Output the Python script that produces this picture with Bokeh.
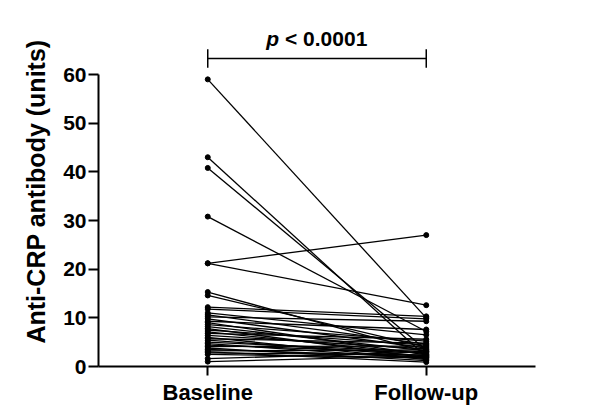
from bokeh.plotting import figure
from bokeh.models import Range1d, FixedTicker, ColumnDataSource
from bokeh.core.properties import value
from bokeh.embed import file_html
from bokeh.resources import INLINE

groups = ["Baseline", "Follow-up"]
baseline = [59, 43, 40.8, 30.8, 21.2, 21.2, 15.3, 14.6, 12.2, 11.8, 11.0, 10.6,
            10.2, 9.8, 9.3, 9.0, 8.6, 8.2, 7.8, 7.5, 7.1, 6.8, 6.4, 6.0, 5.7,
            5.4, 5.0, 4.7, 4.4, 4.1, 3.8, 3.5, 3.2, 3.0, 2.8, 2.5, 1.6, 1.0]
followup = [10.0, 2.0, 3.4, 7.2, 27.0, 12.6, 3.0, 4.0, 10.3, 9.8, 6.5, 4.6,
            9.3, 3.8, 7.6, 2.4, 5.2, 3.2, 1.8, 4.4, 2.6, 5.6, 3.6, 1.4, 4.8,
            2.2, 3.0, 1.6, 2.8, 4.2, 1.2, 2.0, 3.4, 0.9, 2.4, 1.8, 3.0, 2.2]
y_ticks = [0, 10, 20, 30, 40, 50, 60]
p_text = "< 0.0001"

FONT = "Liberation Sans"

p = figure(width=592, height=411, output_backend="svg", toolbar_location=None,
           x_range=Range1d(0.5, 2.5), y_range=Range1d(0, 350 * 60 / 292),
           min_border_left=98, min_border_right=57, min_border_top=16,
           min_border_bottom=45)
p.outline_line_color = None
p.grid.visible = False
p.background_fill_color = "white"

n = len(baseline)
src = ColumnDataSource(dict(x0=[1] * n, x1=[2] * n, y0=baseline, y1=followup))
p.segment("x0", "y0", "x1", "y1", source=src, line_color="black", line_width=1.3)
p.scatter("x0", "y0", source=src, size=5, color="black")
p.scatter("x1", "y1", source=src, size=5, color="black")

# significance bracket
bar_y = 63.3
p.segment([1, 1, 2], [bar_y, 61.4, 61.4], [2, 1, 2], [bar_y, 65.2, 65.2],
          line_color="black", line_width=1.5)
p.text([1.5], [67.4], text=["p"], text_font=value(FONT), text_font_style="bold italic",
       text_font_size="21px", text_align="right", text_baseline="middle",
       x_offset=-38, color="black")
p.text([1.5], [67.4], text=[p_text], text_font=value(FONT), text_font_style="bold",
       text_font_size="21px", text_align="left", text_baseline="middle",
       x_offset=-32, color="black")

# axes
xa = p.xaxis[0]
xa.ticker = FixedTicker(ticks=[1, 2])
xa.major_label_overrides = {1: groups[0], 2: groups[1]}
xa.major_label_text_font = FONT
xa.major_label_text_font_style = "bold"
xa.major_label_text_font_size = "22px"
xa.major_label_text_color = "black"
xa.axis_line_width = 2
xa.major_tick_line_width = 2
xa.major_tick_out = 9
xa.major_tick_in = 0
xa.minor_tick_line_color = None
xa.major_label_standoff = 4

ya = p.yaxis[0]
ya.ticker = FixedTicker(ticks=y_ticks)
ya.bounds = (0, 60)
ya.axis_label = "Anti-CRP antibody (units)"
ya.axis_label_text_font = FONT
ya.axis_label_text_font_style = "bold"
ya.axis_label_text_font_size = "25px"
ya.axis_label_text_color = "black"
ya.axis_label_standoff = 10
ya.major_label_text_font = FONT
ya.major_label_text_font_style = "bold"
ya.major_label_text_font_size = "21px"
ya.major_label_text_color = "black"
ya.axis_line_width = 2
ya.major_tick_line_width = 2
ya.major_tick_out = 10
ya.major_tick_in = 0
ya.minor_tick_line_color = None
ya.major_label_standoff = 2

open("out.html", "w").write(file_html(p, INLINE))
